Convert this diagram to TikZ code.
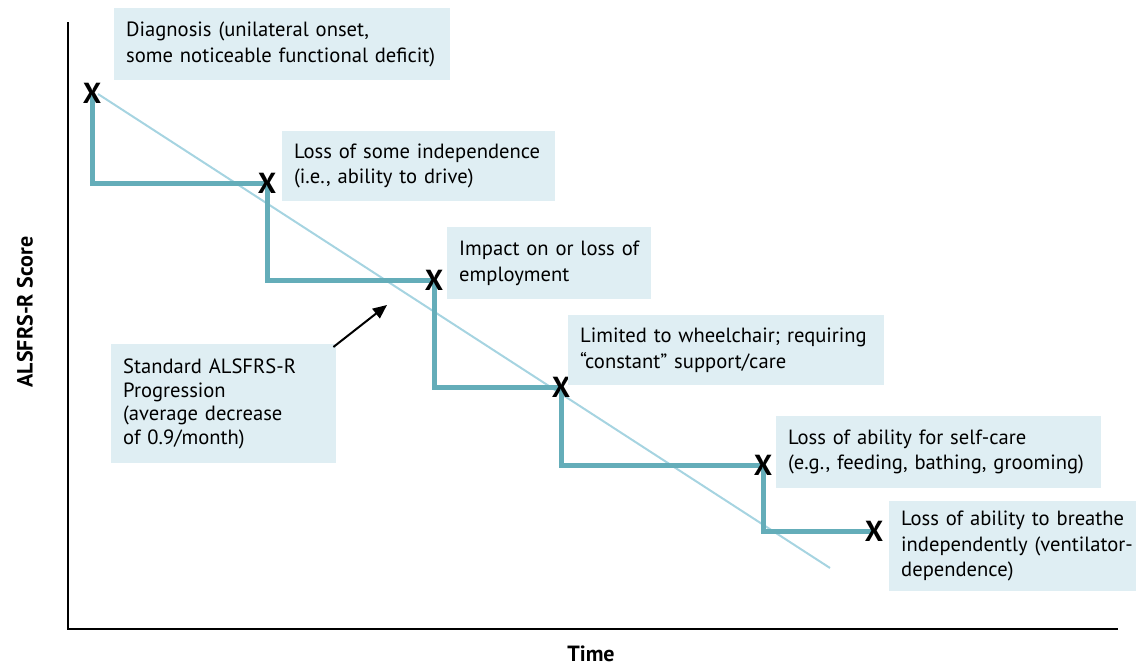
\documentclass[tikz,border=0pt]{standalone}
\usepackage{fontspec}
\setmainfont{PT Sans}
\usetikzlibrary{arrows.meta}
\definecolor{stepc}{HTML}{64ADB9}
\definecolor{trendc}{HTML}{A6D4E1}
\definecolor{boxc}{HTML}{DFEEF3}
\pgfdeclarelayer{bg}
\pgfsetlayers{bg,main}
\tikzset{
  infobox/.style={fill=boxc, draw=none, anchor=north west, align=left, inner xsep=12pt, inner ysep=0pt,
    font=\fontsize{20.6}{25.5}\selectfont},
  marker/.style={font=\fontsize{29}{29}\selectfont\bfseries, inner sep=0pt, text=black},
  axis/.style={line width=2.5pt, black},
  stepline/.style={line width=5pt, stepc},
  trendline/.style={line width=2pt, trendc},
  axislabel/.style={font=\fontsize{22}{24}\selectfont\bfseries}
}
\begin{document}
\begin{tikzpicture}[x=1pt,y=-1pt]
\useasboundingbox (0,0) rectangle (1136,667);
% axes
\coordinate (ytop) at (68,22);
\coordinate (orig) at (68,629);
\coordinate (xend) at (1118,629);
\draw[axis] (ytop) -- (orig) -- (xend);
\node[axislabel, inner sep=1pt] (tlab) at (591,654) {Time};
\node[axislabel, rotate=90] (ylab) at (25,312) {ALSFRS-R Score};
% markers
\node[marker] (x1) at (92,93) {X};
\node[marker] (x2) at (267,183) {X};
\node[marker] (x3) at (434,280) {X};
\node[marker] (x4) at (561,387) {X};
\node[marker] (x5) at (763,465) {X};
\node[marker] (x6) at (874,531) {X};
\coordinate (t0) at (98,94);
\coordinate (t1) at (830,568);
\begin{pgfonlayer}{bg}
\draw[trendline] (t0) -- (t1);
\draw[stepline, line join=miter] (x1.center) |- (x2.center) |- (x3.center) |- (x4.center) |- (x5.center) |- (x6.center);
\end{pgfonlayer}
% boxes
\node[infobox, minimum width=336pt, minimum height=72pt, text width=312pt] (b1) at (114,8)
  {Diagnosis (unilateral onset,\\some noticeable functional deficit)};
\node[infobox, minimum width=273pt, minimum height=70pt, text width=249pt] (b2) at (282,131)
  {Loss of some independence\\(i.e., ability to drive)};
\node[infobox, minimum width=204pt, minimum height=72pt, text width=180pt] (b3) at (447,227)
  {Impact on or loss of\\employment};
\node[infobox, minimum width=316pt, minimum height=70pt, text width=292pt] (b4) at (568,315)
  {Limited to wheelchair; requiring\\``constant'' support/care};
\node[infobox, minimum width=325pt, minimum height=72pt, text width=301pt] (b5) at (776,416)
  {Loss of ability for self-care\\(e.g., feeding, bathing, grooming)};
\node[infobox, minimum width=290pt, minimum height=90pt, text width=266pt] (b6) at (889,501)
  {Loss of ability to breathe\\independently (ventilator-\\dependence)};
\node[infobox, minimum width=225pt, minimum height=119pt, text width=201pt, font=\fontsize{20.6}{23.5}\selectfont] (b7) at (111,344)
  {Standard ALSFRS-R\\Progression\\(average decrease\\of 0.9/month)};
% arrow
\coordinate (ahead) at (387,305);
\draw[line width=2pt, -{Triangle[length=14pt,width=12pt]}] ([shift={(-3,3)}]b7.north east) -- (ahead);
\end{tikzpicture}
\end{document}
